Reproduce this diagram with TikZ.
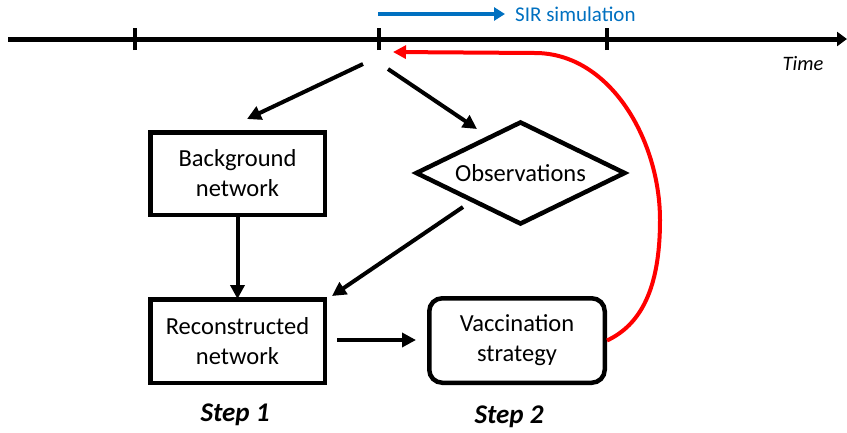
\documentclass[tikz,border=0pt]{standalone}
\usepackage{fontspec}
\setmainfont{Carlito}
\usetikzlibrary{shapes.geometric,arrows.meta}
\definecolor{simblue}{RGB}{0,112,192}
\definecolor{fbred}{RGB}{255,0,0}
\begin{document}
\begin{tikzpicture}[x=1pt,y=-1pt,
  boxstyle/.style={draw,line width=4.5pt,inner sep=0pt,align=center,font=\fontsize{24.5}{30}\selectfont},
  arr/.style={line width=4pt,-{Triangle[length=14pt,width=14pt]}},
  tickstyle/.style={line width=3.5pt}]
\useasboundingbox (0,0) rectangle (847,432);
% timeline
\coordinate (tl0) at (8,39);
\coordinate (tl1) at (847,39);
\draw[line width=5pt,-{Triangle[length=10pt,width=14pt]}] (tl0) -- (tl1);
\coordinate (k1) at (135,39);
\coordinate (k2) at (379,39);
\coordinate (k3) at (607,39);
\foreach \k in {k1,k2,k3} \draw[tickstyle] ([yshift=-11pt]\k) -- ([yshift=11pt]\k);
% SIR simulation
\coordinate (b0) at (378,14);
\coordinate (b1) at (505,14);
\draw[simblue,line width=4.5pt,-{Triangle[length=11pt,width=13pt]}] (b0) -- (b1);
\node[anchor=west,text=simblue,font=\fontsize{21}{24}\selectfont,inner sep=0pt] (sir) at (515,14) {SIR simulation};
\node[anchor=center,font=\fontsize{20.5}{24}\selectfont\itshape,inner sep=0pt] (time) at (803,64) {Time};
% nodes
\node[boxstyle,minimum width=174.5pt,minimum height=82.5pt] (bg) at (237.5,173.5) {Background\\network};
\node[boxstyle,minimum width=174.5pt,minimum height=83.5pt] (rec) at (237.5,341) {Reconstructed\\network};
\node[boxstyle,diamond,aspect=2,minimum width=210pt,minimum height=103pt] (obs) at (520.5,173) {Observations};
\node[boxstyle,rounded corners=13pt,minimum width=175.5pt,minimum height=84.5pt] (vac) at (517,340.5) {Vaccination\\strategy};
% step labels
\node[font=\fontsize{27}{30}\selectfont\bfseries\itshape,inner sep=0pt] (st1) at (235,415) {Step 1};
\node[font=\fontsize{27}{30}\selectfont\bfseries\itshape,inner sep=0pt] (st2) at (509,417) {Step 2};
% arrows
\coordinate (s1) at (363,64);
\coordinate (e1) at (247,119);
\coordinate (s2) at (388,69);
\coordinate (e2) at (477,129);
\draw[arr] (s1) -- (e1);
\draw[arr] (s2) -- (e2);
\draw[arr] (bg.south) -- ([yshift=-2pt]rec.north);
\coordinate (s3) at (463,207);
\coordinate (e3) at (332,296);
\draw[arr] (s3) -- (e3);
\coordinate (s4) at (337,340);
\coordinate (e4) at (416,340);
\draw[arr] (s4) -- (e4);
% red feedback
\coordinate (r1) at (660,220);
\coordinate (r3) at (535,53);
\coordinate (r4) at (393,52);
\draw[fbred,line width=4pt,-{Triangle[length=13pt,width=13pt]}]
  (vac.east) .. controls (640,325) and (660,290) .. (r1)
  .. controls (660,140) and (610,53) .. (r3) -- (r4);
\end{tikzpicture}
\end{document}
